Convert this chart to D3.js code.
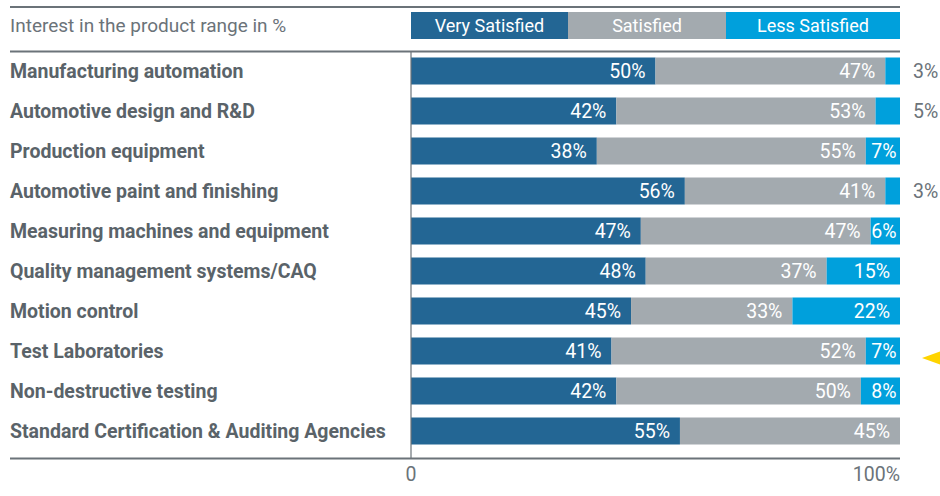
<!DOCTYPE html>
<html>
<head>
<meta charset="utf-8">
<script src="https://cdn.jsdelivr.net/npm/d3@7"></script>
<style>
  html, body { margin: 0; padding: 0; background: #fff; }
  svg { display: block; font-family: Roboto, "Liberation Sans", sans-serif; }
</style>
</head>
<body>
<div id="chart"></div>
<script>
// Interest in the product range, share of answers per category
const categories = [
    "Manufacturing automation",
    "Automotive design and R&D",
    "Production equipment",
    "Automotive paint and finishing",
    "Measuring machines and equipment",
    "Quality management systems/CAQ",
    "Motion control",
    "Test Laboratories",
    "Non-destructive testing",
    "Standard Certification & Auditing Agencies"
];
const seriesNames = ["Very Satisfied", "Satisfied", "Less Satisfied"];
const verySatisfied = [50, 42, 38, 56, 47, 48, 45, 41, 42, 55];
const satisfied     = [47, 53, 55, 41, 47, 37, 33, 52, 50, 45];
const lessSatisfied = [3, 5, 7, 3, 6, 15, 22, 7, 8, 0];
const tickLabels = ["0", "100%"];
const highlighted = "Test Laboratories"; // row marked with the yellow arrow

const colors = ["#236694", "#a3aaaf", "#00a0dc"];
const gray = "#6b7379";

const width = 940, height = 496;
const x0 = 411, x1 = 900;

const rows = categories.map((name, i) => ({
    name,
    "Very Satisfied": verySatisfied[i],
    "Satisfied": satisfied[i],
    "Less Satisfied": lessSatisfied[i]
}));
const stacked = d3.stack().keys(seriesNames)(rows);

const x = d3.scaleLinear().domain([0, 100]).range([x0, x1]);
// step of 40px, bars 27px tall, first bar starts at 57.5
const y = d3.scaleBand().domain(categories).range([51.5, 450.5]).paddingInner(0.325).paddingOuter(0.15);
const color = d3.scaleOrdinal().domain(seriesNames).range(colors);

const svg = d3.select("#chart").append("svg")
    .attr("width", width)
    .attr("height", height);

// horizontal rules
[7, 51.5, 458.5].forEach(yy => {
    svg.append("line")
        .attr("x1", 10).attr("x2", x1)
        .attr("y1", yy).attr("y2", yy)
        .attr("stroke", gray).attr("stroke-width", 2.2);
});

// header title
svg.append("text")
    .attr("x", 10).attr("y", 31.5)
    .attr("fill", gray)
    .attr("font-size", 19)
    .text("Interest in the product range in %");

// legend bar
const legendSpans = { "Very Satisfied": [x0, 568], "Satisfied": [568, 726], "Less Satisfied": [726, x1] };
const legend = svg.append("g").selectAll("g")
    .data(seriesNames)
    .join("g");
legend.append("rect")
    .attr("x", d => legendSpans[d][0])
    .attr("width", d => legendSpans[d][1] - legendSpans[d][0])
    .attr("y", 12).attr("height", 27)
    .attr("fill", color);
legend.append("text")
    .attr("x", d => (legendSpans[d][0] + legendSpans[d][1]) / 2)
    .attr("y", 32)
    .attr("text-anchor", "middle")
    .attr("fill", "#fff")
    .attr("font-size", 18)
    .text(d => d);

// category labels
svg.append("g").selectAll("text")
    .data(categories)
    .join("text")
    .attr("x", 10)
    .attr("y", d => y(d) + y.bandwidth() / 2 + 6.5)
    .attr("fill", "#5a6369")
    .attr("font-size", 19.5)
    .attr("font-weight", "bold")
    .text(d => d);

// bars
const layer = svg.append("g").selectAll("g")
    .data(stacked)
    .join("g")
    .attr("fill", d => color(d.key));

layer.selectAll("rect")
    .data(d => d.map(p => ({ key: d.key, p })))
    .join("rect")
    .attr("x", d => x(d.p[0]))
    .attr("width", d => x(d.p[1]) - x(d.p[0]))
    .attr("y", d => y(d.p.data.name))
    .attr("height", y.bandwidth());

// value labels (tiny segments get their label outside the bar)
const small = d => (d.p[1] - d.p[0]) < 6;
const pad = d => (x(d.p[1]) - x(d.p[0])) < 45 ? 3.5 : 10;
layer.selectAll("text")
    .data(d => d.map(p => ({ key: d.key, p })).filter(d => d.p[1] - d.p[0] > 0))
    .join("text")
    .attr("x", d => small(d) ? x1 + 13 : x(d.p[1]) - pad(d))
    .attr("y", d => y(d.p.data.name) + y.bandwidth() / 2 + 7.3)
    .attr("text-anchor", d => small(d) ? "start" : "end")
    .attr("fill", d => small(d) ? gray : "#fff")
    .attr("font-size", 19.5)
    .text(d => (d.p[1] - d.p[0]) + "%");

// vertical axis line at 0
svg.append("line")
    .attr("x1", x(0)).attr("x2", x(0))
    .attr("y1", 52).attr("y2", 458)
    .attr("stroke", gray).attr("stroke-width", 1.2);

// tick labels
svg.append("g").selectAll("text")
    .data([0, 100])
    .join("text")
    .attr("x", d => x(d))
    .attr("y", 480.5)
    .attr("text-anchor", d => d === 0 ? "middle" : "end")
    .attr("fill", gray)
    .attr("font-size", 19.5)
    .text((d, i) => tickLabels[i]);

// yellow marker arrow, sits a little below the row centre
const my = y(highlighted) + y.bandwidth() / 2 + 7;
svg.append("path")
    .attr("d", `M922,${my}L940,${my - 6.5}L940,${my + 6.5}Z`)
    .attr("fill", "#ffd400");
</script>
</body>
</html>
